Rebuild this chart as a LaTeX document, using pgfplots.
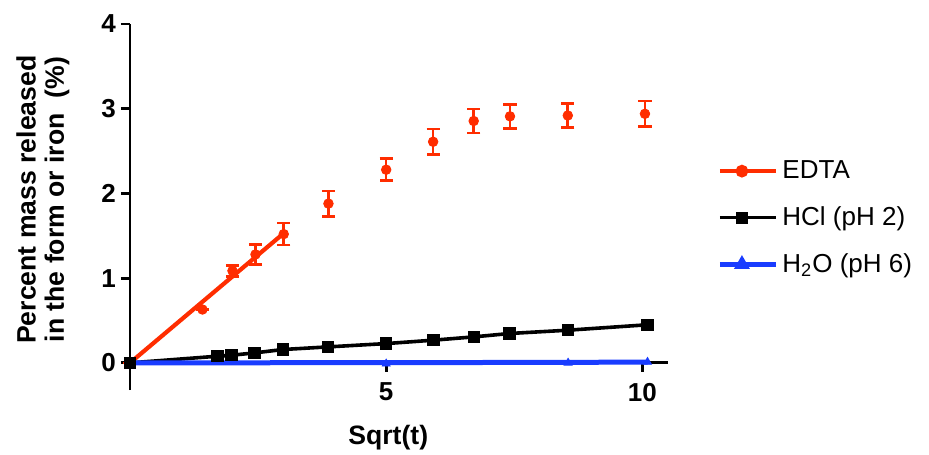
\documentclass[border=0pt]{standalone}
\usepackage{fontspec}
\setmainfont{Liberation Sans}
\usepackage{pgfplots}
\pgfplotsset{compat=1.18}
\definecolor{edta}{RGB}{255,45,0}
\definecolor{hblue}{RGB}{25,60,255}
\begin{document}
\begin{tikzpicture}
\begin{axis}[
 scale only axis, width=269pt, height=183pt,
 xmin=0, xmax=10.5, ymin=-0.32, ymax=4,
 axis x line=middle, axis y line=left,
 axis line style={line width=1.4pt, -},
 xtick={0,5,10}, xticklabels={,5,10},
 ytick={0,1,2,3,4},
 tick align=outside,
 major tick length=4.5pt,
 tick style={line width=1.4pt, black},
 tick label style={font=\bfseries\fontsize{13}{14}\selectfont},
 yticklabel style={xshift=1pt},
 xticklabel style={yshift=-2pt},
 /pgf/number format/assume math mode=true,
 xlabel={Sqrt(t)},
 ylabel={Percent mass released\\in the form or iron\ \ (\%)},
 label style={font=\bfseries\fontsize{13.3}{14.2}\selectfont},
 ylabel style={at={(axis description cs:-0.162,0.52)}, anchor=center, align=center},
 xlabel style={at={(axis description cs:0.48,-0.13)}, anchor=center},
 clip=false,
 legend style={draw=none, fill=none, at={(axis description cs:1.08,0.47)}, anchor=west,
   font=\fontsize{13}{14}\selectfont, row sep=8.5pt,
   nodes={inner sep=2pt}},
 legend cell align=left,
 legend image code/.code={\draw[#1, mark repeat=2, mark phase=2] plot coordinates {(0pt,0pt) (11pt,0pt) (22pt,0pt)}; \path (22pt,0pt) -- (28pt,0pt);},
]
\addlegendimage{edta, line width=2.1pt, mark=*, mark size=2.1pt, mark options={solid}}
\addlegendentry{EDTA}
\addlegendimage{black, line width=1.8pt, mark=square*, mark size=2.1pt}
\addlegendentry{HCl (pH 2)}
\addlegendimage{hblue, line width=2.5pt, mark=triangle*, mark size=2.1pt}
\addlegendentry{H\textsubscript{2}O (pH 6)}

% EDTA linear fit
\addplot[edta, line width=2.1pt, forget plot] coordinates {(0,0) (3.0,1.53)};
% EDTA data with error bars
\addplot[edta, only marks, mark=*, mark size=2.4pt, forget plot,
  error bars/.cd, y dir=both, y explicit,
  error bar style={line width=1.3pt, edta},
  error mark options={line width=1.3pt, mark size=3.3pt, rotate=90, edta}]
  table[x=x, y=y, y error=e] {
x y e
0 0 0
1.414 0.63 0
2.0 1.087 0.065
2.449 1.28 0.12
3.0 1.52 0.13
3.873 1.88 0.15
5.0 2.28 0.13
5.916 2.61 0.15
6.708 2.855 0.14
7.416 2.91 0.14
8.544 2.92 0.14
10.05 2.94 0.15
};
% HCl
\addplot[black, line width=1.8pt, mark=square*, mark size=2.2pt, forget plot] coordinates {
(0,0) (1.71,0.079) (1.98,0.09) (2.43,0.118) (2.99,0.158) (3.87,0.189) (5.0,0.228)
(5.92,0.268) (6.71,0.307) (7.41,0.347) (8.55,0.386) (10.1,0.45)};
% H2O
\addplot[hblue, line width=2.5pt, forget plot] coordinates {(0,0) (5.0,0.003) (8.55,0.006) (10.1,0.01)};
\addplot[hblue, only marks, mark=triangle*, mark size=2.3pt, forget plot] coordinates {
(5.0,-0.01) (8.55,0.0) (10.1,0.01)};
\end{axis}
\pgfresetboundingbox
\path (-65pt,-32pt) rectangle (399.5pt,195pt);
\end{tikzpicture}
\end{document}
